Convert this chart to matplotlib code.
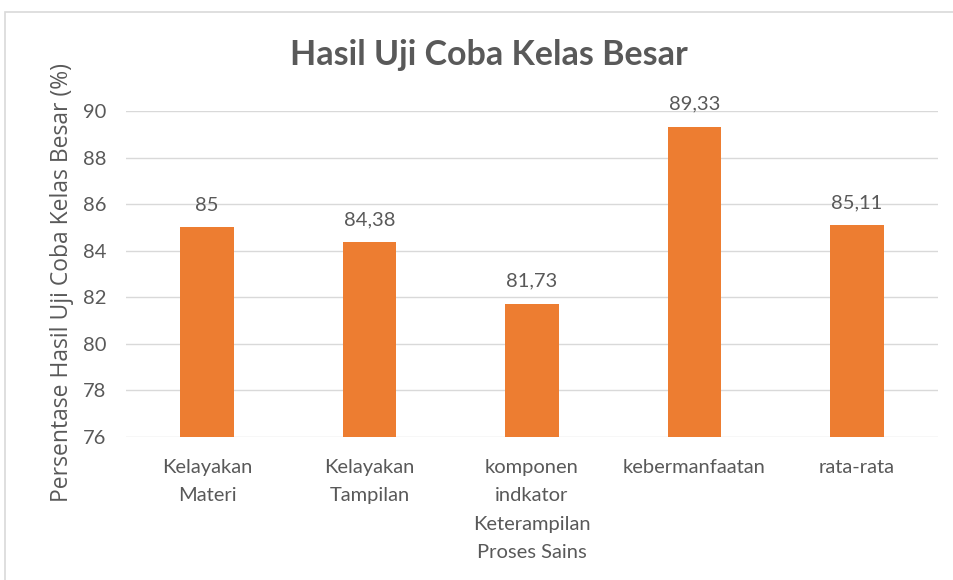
import matplotlib
matplotlib.use("Agg")
import matplotlib.pyplot as plt
from matplotlib.patches import Rectangle

categories = ["Kelayakan\nMateri", "Kelayakan\nTampilan", "komponen\nindkator\nKeterampilan\nProses Sains",
              "kebermanfaatan", "rata-rata"]
values = [85, 84.38, 81.73, 89.33, 85.11]
value_labels = ["85", "84,38", "81,73", "89,33", "85,11"]
yticks = [76, 78, 80, 82, 84, 86, 88, 90]

plt.rcParams['font.family'] = ['Lato', 'DejaVu Sans']
text_color = "#595959"

fig = plt.figure(figsize=(9.54, 5.8), dpi=100)
ax = fig.add_axes([126/954, 1-437/580, (938-126)/954, (437-111)/580])

x = list(range(len(categories)))
ax.bar(x, values, width=0.33, color="#ED7D31", bottom=0, zorder=3)
ax.set_ylim(76, 90)
ax.set_xlim(-0.5, len(categories)-0.5)
ax.set_yticks(yticks)
ax.set_yticklabels([str(t) for t in yticks], fontsize=14.5, color=text_color)
ax.set_xticks(x)
ax.set_xticklabels(categories, fontsize=14.5, color=text_color, linespacing=1.8, va="top")
ax.tick_params(axis='both', length=0)
ax.tick_params(axis='x', pad=16)
ax.tick_params(axis='y', pad=14)
ax.grid(axis='y', color="#D9D9D9", linewidth=1, zorder=0)
for s in ax.spines.values():
    s.set_visible(False)

for xi, v, lab in zip(x, values, value_labels):
    ax.annotate(lab, (xi, v), xytext=(0, 10), textcoords="offset points",
                ha="center", va="bottom", fontsize=14.5, color=text_color)

fig.text(489/954, 1-55/580, "Hasil Uji Coba Kelas Besar", ha="center", va="center",
         fontsize=24.5, fontweight="bold", color=text_color)
fig.text(62/954, 1-283/580, "Persentase Hasil Uji Coba Kelas Besar (%)", rotation=90,
         ha="center", va="center", fontsize=16.5, color=text_color, family=['Open Sans', 'DejaVu Sans'])

fig.patches.append(Rectangle((5/954, -0.1), 1.2, 1.1 - 12/580, transform=fig.transFigure,
                             fill=False, edgecolor="#D9D9D9", linewidth=1.2))

fig.savefig("out.png", dpi=100)
